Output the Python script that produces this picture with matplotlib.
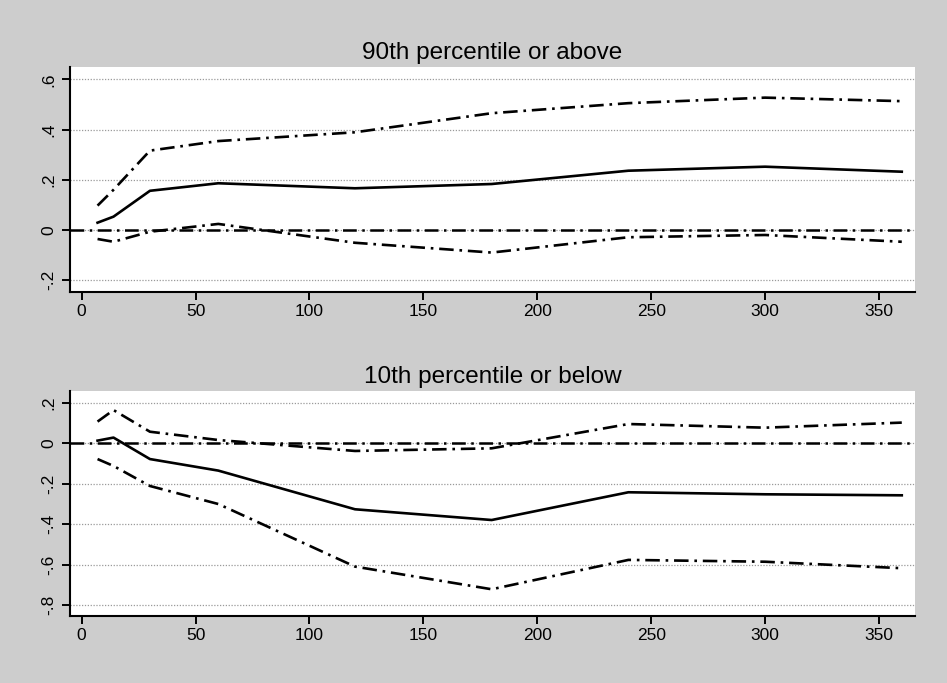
import matplotlib
matplotlib.use("Agg")
import matplotlib.pyplot as plt
from matplotlib.ticker import FixedLocator, FuncFormatter

plt.rcParams['font.family'] = ['Liberation Sans', 'DejaVu Sans']

# horizon (days)
days = [7, 14, 30, 60, 120, 180, 240, 300, 360]

# 90th percentile or above
top_est = [0.029, 0.053, 0.156, 0.186, 0.166, 0.183, 0.236, 0.252, 0.232]
top_hi = [0.097, 0.160, 0.316, 0.354, 0.389, 0.465, 0.505, 0.527, 0.513]
top_lo = [-0.036, -0.047, -0.007, 0.024, -0.051, -0.090, -0.029, -0.020, -0.047]

# 10th percentile or below
bot_est = [0.013, 0.028, -0.078, -0.135, -0.326, -0.379, -0.242, -0.252, -0.257]
bot_hi = [0.107, 0.164, 0.057, 0.016, -0.038, -0.025, 0.095, 0.077, 0.102]
bot_lo = [-0.078, -0.112, -0.211, -0.300, -0.609, -0.721, -0.576, -0.585, -0.617]

titles = ["90th percentile or above", "10th percentile or below"]
xticks = [0, 50, 100, 150, 200, 250, 300, 350]
top_yticks = [-0.2, 0, 0.2, 0.4, 0.6]
bot_yticks = [-0.8, -0.6, -0.4, -0.2, 0, 0.2]

BG = '#cdcdcd'
DASHDOT = (0, (5.5, 2.2, 1.0, 2.2))


def stata_fmt(v, pos):
    if abs(v) < 1e-9:
        return "0"
    s = "%g" % v
    return s.replace("0.", ".")


def draw_panel(ax, title, est, hi, lo, yticks, ylim):
    ax.set_facecolor('white')
    for yv in yticks:
        ax.axhline(yv, color='#9a9a9a', lw=0.9, ls=(0, (1, 1.3)), zorder=1)
    ax.axhline(0, color='black', lw=1.8, ls=DASHDOT, zorder=2)
    ax.plot(days, hi, color='black', lw=1.9, ls=DASHDOT, zorder=3)
    ax.plot(days, lo, color='black', lw=1.9, ls=DASHDOT, zorder=3)
    ax.plot(days, est, color='black', lw=1.9, zorder=4)
    ax.set_xlim(-5.1, 365.8)
    ax.set_ylim(*ylim)
    ax.xaxis.set_major_locator(FixedLocator(xticks))
    ax.yaxis.set_major_locator(FixedLocator(yticks))
    ax.yaxis.set_major_formatter(FuncFormatter(stata_fmt))
    for side in ['top', 'right']:
        ax.spines[side].set_visible(False)
    for side in ['left', 'bottom']:
        ax.spines[side].set_linewidth(1.5)
    ax.tick_params(axis='both', length=6, width=1.4, labelsize=12.5, color='black')
    ax.tick_params(axis='x', pad=3)
    ax.tick_params(axis='y', labelrotation=90, pad=4)
    for lab in ax.get_yticklabels():
        lab.set_verticalalignment('center')
    ax.set_title(title, fontsize=17.5, pad=6)


fig = plt.figure(figsize=(9.47, 6.83), dpi=100, facecolor=BG)
ax1 = fig.add_axes([0.0739, 0.5725, 0.8923, 0.3294])
ax2 = fig.add_axes([0.0739, 0.0981, 0.8923, 0.3294])

draw_panel(ax1, titles[0], top_est, top_hi, top_lo, top_yticks, (-0.247, 0.649))
draw_panel(ax2, titles[1], bot_est, bot_hi, bot_lo, bot_yticks, (-0.853, 0.258))

fig.savefig("out.png", dpi=100, facecolor=BG)
